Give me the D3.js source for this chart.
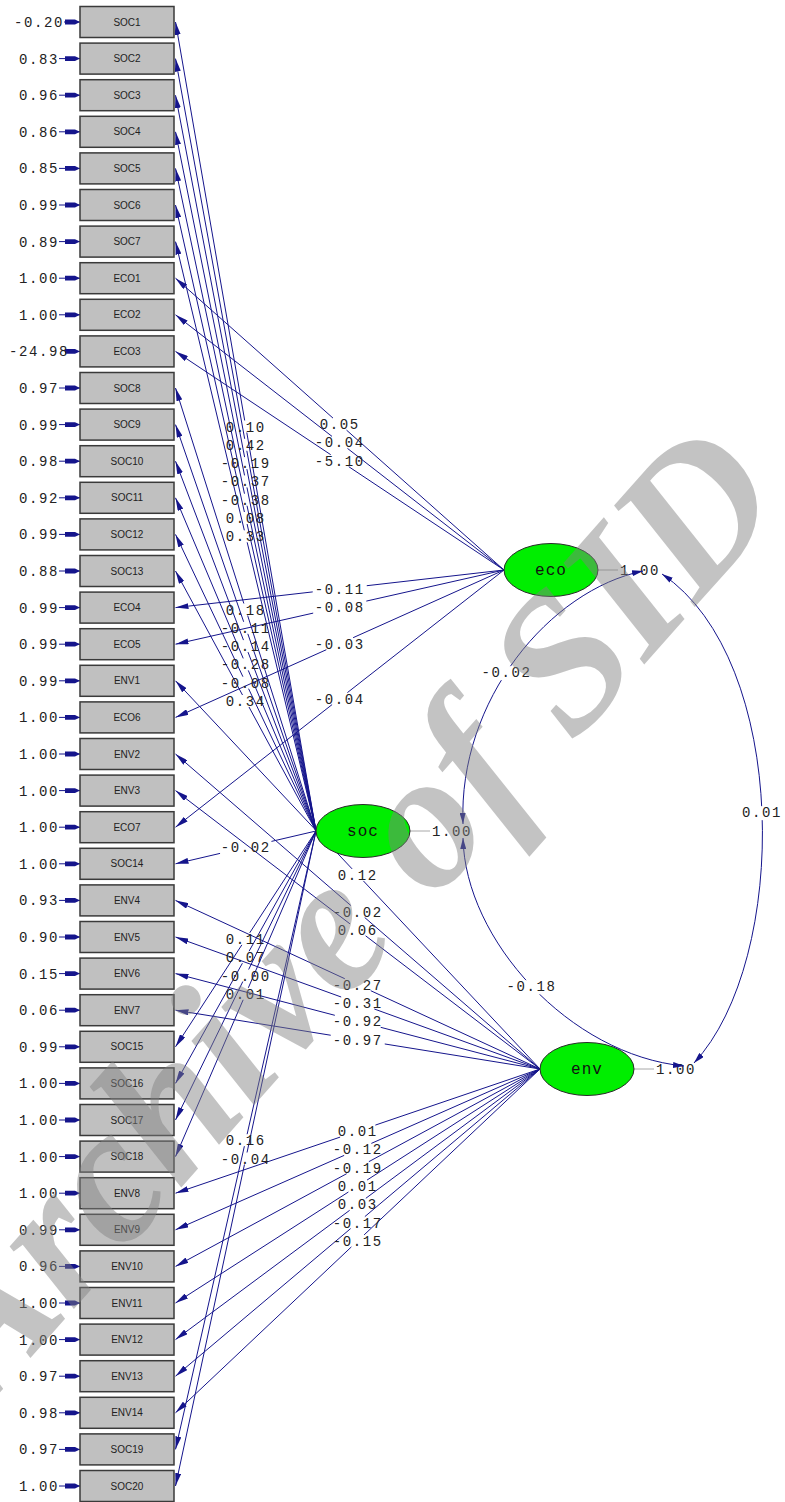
<!DOCTYPE html>
<html>
<head>
<meta charset="utf-8">
<script src="https://cdn.jsdelivr.net/npm/d3@7"></script>
<style>
  html, body { margin: 0; padding: 0; background: #fff; }
  svg { display: block; }
</style>
</head>
<body>
<svg id="chart" width="785" height="1502"></svg>
<script>
// ---- model estimates ----
const indicators = [
  "SOC1","SOC2","SOC3","SOC4","SOC5","SOC6","SOC7","ECO1","ECO2","ECO3",
  "SOC8","SOC9","SOC10","SOC11","SOC12","SOC13","ECO4","ECO5","ENV1","ECO6",
  "ENV2","ENV3","ECO7","SOC14","ENV4","ENV5","ENV6","ENV7","SOC15","SOC16",
  "SOC17","SOC18","ENV8","ENV9","ENV10","ENV11","ENV12","ENV13","ENV14","SOC19","SOC20"
];
const errorVariances = [
  -0.20, 0.83, 0.96, 0.86, 0.85, 0.99, 0.89, 1.00, 1.00, -24.98,
  0.97, 0.99, 0.98, 0.92, 0.99, 0.88, 0.99, 0.99, 0.99, 1.00,
  1.00, 1.00, 1.00, 1.00, 0.93, 0.90, 0.15, 0.06, 0.99, 1.00,
  1.00, 1.00, 1.00, 0.99, 0.96, 1.00, 1.00, 0.97, 0.98, 0.97, 1.00
];
const loadings = [
  0.10, 0.42, -0.19, -0.37, -0.38, 0.08, 0.33, 0.05, -0.04, -5.10,
  0.18, -0.11, -0.14, -0.28, -0.08, 0.34, -0.11, -0.08, 0.12, -0.03,
  -0.02, 0.06, -0.04, -0.02, -0.27, -0.31, -0.92, -0.97, 0.11, 0.07,
  -0.00, 0.01, 0.01, -0.12, -0.19, 0.01, 0.03, -0.17, -0.15, 0.16, -0.04
];
const factors = ["eco", "soc", "env"];
const factorVariances = [1.00, 1.00, 1.00];
const covFrom = ["eco", "soc", "eco"];
const covTo = ["soc", "env", "env"];
const covValues = [-0.02, -0.18, 0.01];

// ---- layout ----
const W = 785, H = 1502;
const navy = "#15158c";
const mono = "'Liberation Mono', 'Courier New', monospace";
const box = { x0: 80, x1: 174, h: 31 };
const y = d3.scaleLinear().domain([0, indicators.length - 1]).range([22, 1486]);
const factorPos = {
  eco: { cx: 551, cy: 570 },
  soc: { cx: 363, cy: 831 },
  env: { cx: 587, cy: 1069 }
};
const rx = 47, ry = 26.5;
// cubic bezier handles for the covariance arcs, plus where the value sits
const arcGeom = {
  "eco-soc": { pts: [[643, 571], [550, 590], [458, 700], [463, 824]], t: 0.55 },
  "soc-env": { pts: [[463, 838], [465, 940], [570, 1055], [684, 1066]], t: 0.5 },
  "eco-env": { pts: [[662, 574], [790, 660], [790, 960], [694, 1063]], t: 0.5 }
};

const fmt = v => ((v < 0 || Object.is(v, -0)) ? "-" : "") + Math.abs(v).toFixed(2);
const factorOf = name => name.slice(0, 3).toLowerCase();

const svg = d3.select("#chart");
svg.append("rect").attr("width", W).attr("height", H).attr("fill", "#fff");
const defs = svg.append("defs");

function addMarker(id, len, wid, d) {
  defs.append("marker")
    .attr("id", id)
    .attr("viewBox", `0 0 ${len} ${wid}`)
    .attr("refX", len).attr("refY", wid / 2)
    .attr("markerWidth", len).attr("markerHeight", wid)
    .attr("markerUnits", "userSpaceOnUse")
    .attr("orient", "auto-start-reverse")
    .append("path").attr("d", d).attr("fill", navy);
}
addMarker("ahLoad", 13, 6, "M0,0L13,3L0,6Z");
addMarker("ahErr", 15, 6, "M0,0.6H10L15,3L10,5.4H0Z");
addMarker("ahCov", 11, 6, "M0,0L11,3L0,6Z");

const gLines = svg.append("g");
const gBoxes = svg.append("g");
const gLabels = svg.append("g");
const gFactors = svg.append("g");

// ---- observed variables ----
indicators.forEach((name, i) => {
  const cy = y(i);
  gBoxes.append("rect")
    .attr("x", box.x0).attr("y", cy - box.h / 2)
    .attr("width", box.x1 - box.x0).attr("height", box.h)
    .attr("fill", "#c0c0c0").attr("stroke", "#3a3a3a").attr("stroke-width", 1.5);
  gBoxes.append("text")
    .attr("x", (box.x0 + box.x1) / 2).attr("y", cy)
    .attr("dy", "0.36em").attr("text-anchor", "middle")
    .attr("font-family", "'Liberation Sans', Arial, sans-serif")
    .attr("font-size", 10).attr("fill", "#222")
    .text(name);

  // error variance with its arrow into the box
  const et = gLabels.append("text")
    .attr("x", 39).attr("y", cy).attr("dy", "0.36em")
    .attr("text-anchor", "middle")
    .attr("font-family", mono).attr("font-size", 14)
    .attr("letter-spacing", 1.6).attr("fill", "#222")
    .text(fmt(errorVariances[i]));
  const bb = et.node().getBBox();
  gLines.append("line")
    .attr("x1", bb.x + bb.width).attr("y1", cy)
    .attr("x2", box.x0).attr("y2", cy)
    .attr("stroke", navy).attr("stroke-width", 1)
    .attr("marker-end", "url(#ahErr)");
});

// ---- loadings ----
indicators.forEach((name, i) => {
  const f = factorPos[factorOf(name)];
  const p0 = [f.cx - rx, f.cy];
  const p1 = [box.x1 + 1.5, y(i)];
  const mx = (p0[0] + p1[0]) / 2, my = (p0[1] + p1[1]) / 2;
  const t = gLabels.append("text")
    .attr("x", mx).attr("y", my).attr("dy", "0.36em")
    .attr("text-anchor", "middle")
    .attr("font-family", mono).attr("font-size", 14)
    .attr("letter-spacing", 1.6).attr("fill", "#222")
    .text(fmt(loadings[i]));
  const w = t.node().getComputedTextLength() + 4, h = 12;
  const dx = p1[0] - p0[0], dy = p1[1] - p0[1];
  const dt = Math.min((w / 2) / Math.abs(dx || 1e-9), (h / 2) / Math.abs(dy || 1e-9));
  const at = s => [p0[0] + s * dx, p0[1] + s * dy];
  const a = at(0.5 - dt), b = at(0.5 + dt);
  gLines.append("line")
    .attr("x1", p0[0]).attr("y1", p0[1]).attr("x2", a[0]).attr("y2", a[1])
    .attr("stroke", navy).attr("stroke-width", 1);
  gLines.append("line")
    .attr("x1", b[0]).attr("y1", b[1]).attr("x2", p1[0]).attr("y2", p1[1])
    .attr("stroke", navy).attr("stroke-width", 1)
    .attr("marker-end", "url(#ahLoad)");
});

// ---- latent variables ----
factors.forEach((f, k) => {
  const p = factorPos[f];
  gFactors.append("line")
    .attr("x1", p.cx + rx).attr("y1", p.cy).attr("x2", p.cx + rx + 20).attr("y2", p.cy)
    .attr("stroke", "#a8a8a8").attr("stroke-width", 1);
  gFactors.append("text")
    .attr("x", p.cx + rx + 22).attr("y", p.cy).attr("dy", "0.36em")
    .attr("font-family", mono).attr("font-size", 14)
    .attr("letter-spacing", 1.6).attr("fill", "#222")
    .text(fmt(factorVariances[k]));
  gFactors.append("ellipse")
    .attr("cx", p.cx).attr("cy", p.cy).attr("rx", rx).attr("ry", ry)
    .attr("fill", "#00ee00").attr("stroke", "#2a2a2a").attr("stroke-width", 1);
  gFactors.append("text")
    .attr("x", p.cx).attr("y", p.cy).attr("dy", "0.32em")
    .attr("text-anchor", "middle")
    .attr("font-family", mono).attr("font-size", 16)
    .attr("letter-spacing", 1).attr("fill", "#111")
    .text(f);
});

// ---- covariances ----
function bez(p, t) {
  const u = 1 - t;
  const c = [u * u * u, 3 * u * u * t, 3 * u * t * t, t * t * t];
  return [0, 1].map(k => c[0] * p[0][k] + c[1] * p[1][k] + c[2] * p[2][k] + c[3] * p[3][k]);
}
covValues.forEach((v, k) => {
  const g = arcGeom[covFrom[k] + "-" + covTo[k]];
  const p = g.pts;
  const path = d3.path();
  path.moveTo(p[0][0], p[0][1]);
  path.bezierCurveTo(p[1][0], p[1][1], p[2][0], p[2][1], p[3][0], p[3][1]);
  gFactors.append("path")
    .attr("d", path.toString())
    .attr("fill", "none").attr("stroke", navy).attr("stroke-width", 1)
    .attr("marker-start", "url(#ahCov)").attr("marker-end", "url(#ahCov)");
  const lp = bez(p, g.t);
  const txt = gFactors.append("text")
    .attr("x", lp[0]).attr("y", lp[1]).attr("dy", "0.36em")
    .attr("text-anchor", "middle")
    .attr("font-family", mono).attr("font-size", 14)
    .attr("letter-spacing", 1.6).attr("fill", "#222")
    .text(fmt(v));
  const tb = txt.node().getBBox();
  gFactors.insert("rect", () => txt.node())
    .attr("x", tb.x - 2).attr("y", tb.y + 1)
    .attr("width", tb.width + 4).attr("height", tb.height - 2)
    .attr("fill", "#fff");
});

// ---- watermark ----
svg.append("text")
  .attr("transform", "translate(387,955) rotate(-48.5)")
  .attr("text-anchor", "middle")
  .attr("font-family", "'Liberation Serif', 'Times New Roman', serif")
  .attr("font-style", "italic").attr("font-weight", "bold")
  .attr("font-size", 195)
  .attr("fill", "#808080").attr("fill-opacity", 0.47)
  .text("Archive of SID");
</script>
</body>
</html>
